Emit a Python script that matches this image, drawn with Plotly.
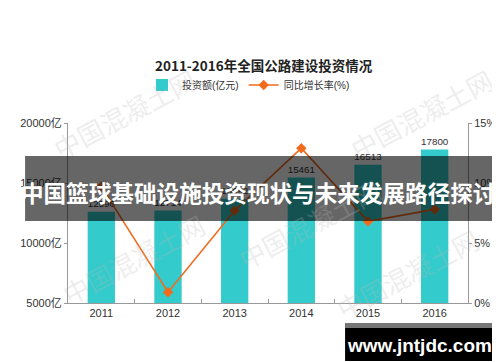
import plotly.graph_objects as go

years = ["2011", "2012", "2013", "2014", "2015", "2016"]
investment = [12596, 12714, 13692, 15461, 16513, 17800]
growth = [9.7, 0.9, 7.7, 12.9, 6.8, 7.8]
left_ticks = [5000, 10000, 15000, 20000]
left_labels = ["5000亿", "10000亿", "15000亿", "20000亿"]
right_ticks = [0, 5, 10, 15]
right_labels = ["0%", "5%", "10%", "15%"]

TEAL = "#33CBCB"
ORANGE = "#F26B1D"
FONT = "Liberation Sans, Arial, Noto Sans CJK SC, sans-serif"

W, H = 500, 362
L, R, T, B = 53, 37, 115, 67
PW, PH = W - L - R, H - T - B

def px(x):
    return (x - L) / PW

def py(y):
    return (H - B - y) / PH

fig = go.Figure()
fig.add_trace(go.Bar(
    x=years, y=investment, name="投资额(亿元)",
    marker=dict(color=TEAL, line=dict(width=0)),
    width=0.41,
    text=[str(v) for v in investment], textposition="outside",
    textfont=dict(size=11, color="#333333", family=FONT),
    cliponaxis=False,
))
fig.add_trace(go.Scatter(
    x=years, y=growth, name="同比增长率(%)", yaxis="y2",
    mode="lines+markers",
    line=dict(color=ORANGE, width=1.6),
    marker=dict(symbol="diamond", size=8, color=ORANGE),
    cliponaxis=False,
))

# faint watermarks
wm = [(110, 105), (415, 105), (120, 250), (400, 265), (300, 215)]
for (x, y) in wm:
    fig.add_annotation(x=px(x), y=py(y), xref="paper", yref="paper",
                       xanchor="center", yanchor="middle",
                       text="中国混凝土网", showarrow=False, textangle=-28,
                       font=dict(size=26, color="rgba(185,185,185,0.25)",
                                 family="Noto Sans CJK SC"))

shapes = [
    dict(type="rect", xref="paper", yref="paper", x0=px(9), x1=px(492),
         y0=py(213), y1=py(148), fillcolor="rgba(0,0,0,0.6)",
         line=dict(width=0), layer="above"),
    dict(type="rect", xref="paper", yref="paper", x0=px(337), x1=px(491),
         y0=py(353), y1=py(315), fillcolor="#000000",
         line=dict(width=0), layer="above"),
    dict(type="rect", xref="paper", yref="paper", x0=px(337), x1=px(491),
         y0=py(320), y1=py(315), fillcolor="#777777",
         line=dict(width=0), layer="above"),
]

fig.add_annotation(x=px(248), y=py(184), xref="paper", yref="paper",
                   xanchor="center", yanchor="middle",
                   text="<b>中国篮球基础设施投资现状与未来发展路径探讨</b>",
                   showarrow=False,
                   font=dict(size=22.6, color="white", family="Noto Sans CJK SC"))
fig.add_annotation(x=px(413), y=py(337), xref="paper", yref="paper",
                   xanchor="center", yanchor="middle",
                   text="<b>www.jntjdc.com</b>", showarrow=False,
                   font=dict(size=19, color="white", family="Liberation Sans, Arial"))

fig.add_annotation(x=px(254), y=py(57), xref="paper", yref="paper",
                   xanchor="center", yanchor="middle",
                   text="<b>2011-2016年全国公路建设投资情况</b>", showarrow=False,
                   font=dict(size=13.5, color="#222222", family="Noto Sans CJK SC"))

fig.update_layout(
    width=W, height=H,
    margin=dict(l=L, r=R, t=T, b=B),
    paper_bgcolor="white", plot_bgcolor="white",
    font=dict(family=FONT, size=11, color="#333333"),
    legend=dict(orientation="h", x=px(238), xanchor="center", y=py(77),
                yanchor="middle", font=dict(size=10, color="#333333"),
                bgcolor="rgba(0,0,0,0)", itemwidth=30, tracegroupgap=0),
    bargap=0.59,
    showlegend=True,
    shapes=shapes,
    xaxis=dict(showline=True, linecolor="#999999", linewidth=1,
               ticks="inside", ticklen=4, tickcolor="#999999",
               tickson="boundaries", showgrid=False,
               tickfont=dict(size=11, color="#333333")),
    yaxis=dict(range=[5000, 20000], tickvals=left_ticks, ticktext=left_labels,
               showline=True, linecolor="#999999", linewidth=1,
               ticks="outside", ticklen=3, tickcolor="#999999",
               showgrid=False, zeroline=False,
               tickfont=dict(size=11, color="#333333")),
    yaxis2=dict(range=[0, 15], tickvals=right_ticks, ticktext=right_labels,
                overlaying="y", side="right",
                showline=True, linecolor="#999999", linewidth=1,
                ticks="outside", ticklen=3, tickcolor="#999999",
                showgrid=False, zeroline=False,
                tickfont=dict(size=11, color="#333333")),
)

fig.write_html("out.html")
